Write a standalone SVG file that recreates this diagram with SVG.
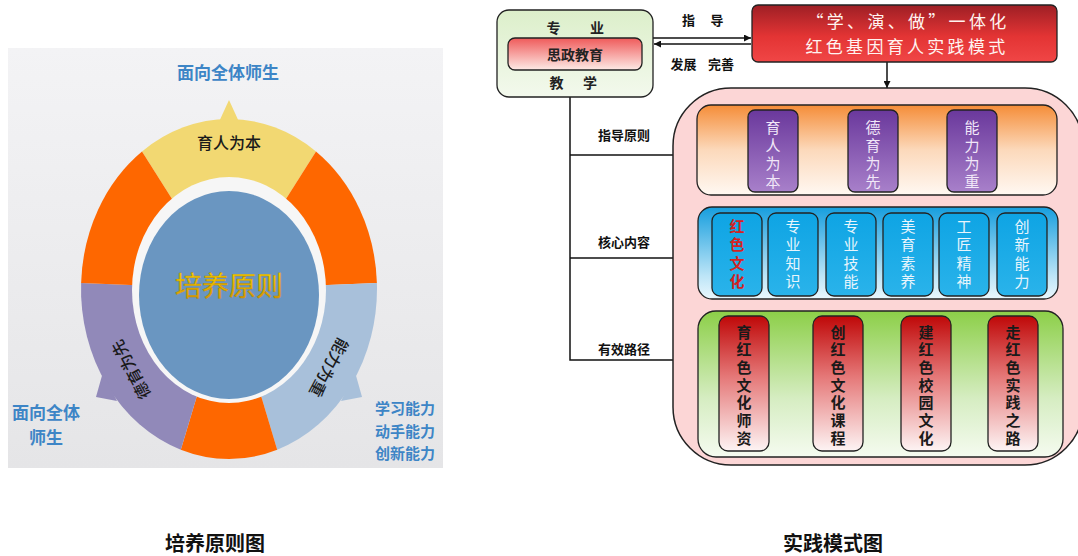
<svg xmlns="http://www.w3.org/2000/svg" width="1078" height="556" viewBox="0 0 1078 556">
<defs>
<style>
text{font-family:"Noto Sans CJK SC","Noto Sans",sans-serif}
.bl{fill:#3d85c6;font-weight:700}
.lbl{font-size:13px;font-weight:700;fill:#111}
.ttl{font-size:14px;font-weight:700;fill:#222}
.box{stroke:#222;stroke-width:1.3}
.v{writing-mode:vertical-rl;font-size:15px}
.pch{fill:#f1e7f8;letter-spacing:3px}
.bch{fill:#e8f5fc;letter-spacing:3.1px}
.rch{font-weight:700;fill:#1a1a1a;letter-spacing:2.7px}
.cap{font-size:20px;font-weight:700;fill:#111;text-anchor:middle}
.ln{stroke:#111;stroke-width:1.5;fill:none}
.hd{font-size:17px;letter-spacing:3.3px;text-anchor:middle;fill:#fff3f0}
</style>
<linearGradient id="bg" x1="0" y1="0" x2="0" y2="1"><stop offset="0" stop-color="#f3f3f5"/><stop offset="1" stop-color="#e5e5e7"/></linearGradient>
<linearGradient id="gold" x1="0" y1="0" x2="0" y2="1"><stop offset="0" stop-color="#ffe600"/><stop offset="1" stop-color="#d08c00"/></linearGradient>
<linearGradient id="gGreen" x1="0" y1="0" x2="0" y2="1"><stop offset="0" stop-color="#dcefca"/><stop offset="1" stop-color="#f3f9ed"/></linearGradient>
<linearGradient id="gSz" x1="0" y1="0" x2="0" y2="1"><stop offset="0" stop-color="#ef5a5a"/><stop offset="1" stop-color="#fdeae6"/></linearGradient>
<linearGradient id="gRed" x1="0" y1="0" x2="0" y2="1"><stop offset="0" stop-color="#9e1f25"/><stop offset="0.55" stop-color="#e33434"/><stop offset="1" stop-color="#f04646"/></linearGradient>
<linearGradient id="gOr" x1="0" y1="0" x2="0" y2="1"><stop offset="0" stop-color="#f58d38"/><stop offset="0.5" stop-color="#fcd9bb"/><stop offset="1" stop-color="#fff8f2"/></linearGradient>
<linearGradient id="gPu" x1="0" y1="0" x2="0" y2="1"><stop offset="0" stop-color="#6a389c"/><stop offset="1" stop-color="#a880ca"/></linearGradient>
<linearGradient id="gBl" x1="0" y1="0" x2="0" y2="1"><stop offset="0" stop-color="#169ede"/><stop offset="0.75" stop-color="#bde5f7"/><stop offset="1" stop-color="#eaf7fd"/></linearGradient>
<linearGradient id="gBb" x1="0" y1="0" x2="0" y2="1"><stop offset="0" stop-color="#0ea4e4"/><stop offset="1" stop-color="#2ab3ea"/></linearGradient>
<linearGradient id="gGr" x1="0" y1="0" x2="0" y2="1"><stop offset="0" stop-color="#8ccf48"/><stop offset="0.6" stop-color="#d6edc2"/><stop offset="1" stop-color="#f5fbf0"/></linearGradient>
<linearGradient id="gRb" x1="0" y1="0" x2="0" y2="1"><stop offset="0" stop-color="#bf0808"/><stop offset="0.45" stop-color="#e57878"/><stop offset="1" stop-color="#fdf4f4"/></linearGradient>
<marker id="ah" viewBox="0 0 10 10" refX="10" refY="5" markerWidth="8" markerHeight="7" markerUnits="userSpaceOnUse" orient="auto"><path d="M0,0 L10,5 L0,10 z" fill="#111"/></marker>
</defs>

<!-- Left: 培养原则图 -->
<g id="principle-wheel">
<rect x="8" y="48" width="435" height="420" fill="url(#bg)"/>
<path d="M229,289 L142,151.5 A148,170 0 0 1 316,151.5 Z" fill="#f2d872"/>
<polygon points="218,124 229,100 240,124" fill="#f2d872"/>
<path d="M229,289 L316,151.5 A148,170 0 0 1 376.9,283.1 Z" fill="#fe6700"/>
<path d="M229,289 L376.9,283.1 A148,170 0 0 1 277.2,449.7 Z" fill="#a8c0da"/>
<polygon points="355,372 362,397 341,401" fill="#a8c0da"/>
<path d="M229,289 L277.2,449.7 A148,170 0 0 1 180.8,449.7 Z" fill="#fe6700"/>
<path d="M229,289 L180.8,449.7 A148,170 0 0 1 81.1,283.1 Z" fill="#9189b9"/>
<polygon points="103,372 96,397 117,401" fill="#9189b9"/>
<path d="M229,289 L81.1,283.1 A148,170 0 0 1 142,151.5 Z" fill="#fe6700"/>
<ellipse cx="229" cy="290" rx="97" ry="113" fill="#f6f6f6"/>
<ellipse cx="229" cy="295" rx="90" ry="104" fill="#6a96c1"/>
<text x="229" y="296" font-size="27" text-anchor="middle" fill="url(#gold)" stroke="#b98300" stroke-width="0.4">培养原则</text>
<text x="229" y="149" font-size="16" text-anchor="middle" fill="#1a1a1a" font-weight="500">育人为本</text>
<text x="130" y="370" font-size="16" text-anchor="middle" dominant-baseline="central" fill="#1a1a1a" font-weight="500" transform="rotate(-118 130 370)">德育为先</text>
<text x="330" y="368" font-size="16" text-anchor="middle" dominant-baseline="central" fill="#1a1a1a" font-weight="500" transform="rotate(118 330 368)">能力为重</text>
<text class="bl" x="228" y="78.5" font-size="17" text-anchor="middle">面向全体师生</text>
<text class="bl" font-size="17" text-anchor="middle"><tspan x="46" y="419">面向全体</tspan><tspan x="46" y="444">师生</tspan></text>
<text class="bl" font-size="15" text-anchor="middle"><tspan x="405" y="414">学习能力</tspan><tspan x="405" y="436.5">动手能力</tspan><tspan x="405" y="459">创新能力</tspan></text>
</g>
<text id="caption-left" class="cap" x="215" y="550.5">培养原则图</text>

<!-- Right: 实践模式图 -->
<g id="connectors">
<line class="ln" x1="653" y1="38" x2="751" y2="38" marker-end="url(#ah)"/>
<line class="ln" x1="751" y1="44" x2="654" y2="44" marker-end="url(#ah)"/>
<line class="ln" x1="887" y1="62" x2="887" y2="88" marker-end="url(#ah)"/>
<path class="ln" d="M570,97 V360 H697" marker-end="url(#ah)"/>
<line class="ln" x1="570" y1="155" x2="697" y2="155" marker-end="url(#ah)"/>
<line class="ln" x1="570" y1="258" x2="697" y2="258" marker-end="url(#ah)"/>
<text class="lbl" y="25"><tspan x="690" text-anchor="middle">指</tspan> <tspan x="717" text-anchor="middle">导</tspan></text>
<text class="lbl" y="69"><tspan x="685" text-anchor="middle">发展</tspan> <tspan x="721" text-anchor="middle">完善</tspan></text>
<text class="lbl" x="624" y="140" text-anchor="middle">指导原则</text>
<text class="lbl" x="624" y="247" text-anchor="middle">核心内容</text>
<text class="lbl" x="624" y="354" text-anchor="middle">有效路径</text>
</g>

<g id="node-source">
<rect class="box" x="497" y="10" width="156" height="87" rx="12" fill="url(#gGreen)"/>
<text class="ttl" y="33"><tspan x="555" text-anchor="middle">专</tspan> <tspan x="597" text-anchor="middle">业</tspan></text>
<rect class="box" x="508" y="38" width="134" height="32" rx="7" fill="url(#gSz)"/>
<text class="ttl" x="575" y="59.5" text-anchor="middle">思政教育</text>
<text class="ttl" y="87.5"><tspan x="558" text-anchor="middle">教</tspan> <tspan x="590" text-anchor="middle">学</tspan></text>
</g>

<g id="node-model">
<rect class="box" x="752" y="5" width="305" height="57" rx="6" fill="url(#gRed)"/>
<text class="hd" x="908" y="27.8">“学、演、做”一体化</text>
<text class="hd" x="907" y="52.6">红色基因育人实践模式</text>
</g>

<g id="node-system">
<rect x="673" y="88" width="410" height="377" rx="58" fill="#fcd6d6" stroke="#222" stroke-width="1.5"/>
</g>

<g id="node-principles">
<rect class="box" x="697" y="105" width="360" height="90" rx="14" fill="url(#gOr)"/>
<rect class="box" x="748" y="110" width="50" height="82" rx="7" fill="url(#gPu)"/>
<rect class="box" x="848" y="110" width="50" height="82" rx="7" fill="url(#gPu)"/>
<rect class="box" x="947" y="110" width="50" height="82" rx="7" fill="url(#gPu)"/>
<text class="v pch" x="773" y="119.5">育人为本</text>
<text class="v pch" x="873" y="119.5">德育为先</text>
<text class="v pch" x="972" y="119.5">能力为重</text>
</g>

<g id="node-content">
<rect class="box" x="698" y="207" width="360" height="92" rx="14" fill="url(#gBl)"/>
<rect class="box" x="712" y="213" width="50" height="83" rx="8" fill="url(#gBb)"/>
<rect class="box" x="768" y="213" width="50" height="83" rx="8" fill="url(#gBb)"/>
<rect class="box" x="826" y="213" width="50" height="83" rx="8" fill="url(#gBb)"/>
<rect class="box" x="883" y="213" width="50" height="83" rx="8" fill="url(#gBb)"/>
<rect class="box" x="939" y="213" width="50" height="83" rx="8" fill="url(#gBb)"/>
<rect class="box" x="997" y="213" width="50" height="83" rx="8" fill="url(#gBb)"/>
<text class="v bch" x="737" y="219.2" style="fill:#d42222;font-weight:700">红色文化</text>
<text class="v bch" x="793" y="219.2">专业知识</text>
<text class="v bch" x="851" y="219.2">专业技能</text>
<text class="v bch" x="908" y="219.2">美育素养</text>
<text class="v bch" x="964" y="219.2">工匠精神</text>
<text class="v bch" x="1022" y="219.2">创新能力</text>
</g>

<g id="node-paths">
<rect class="box" x="698" y="311" width="365" height="146" rx="18" fill="url(#gGr)"/>
<rect class="box" x="719" y="316" width="50" height="135" rx="9" fill="url(#gRb)"/>
<rect class="box" x="813" y="316" width="50" height="135" rx="9" fill="url(#gRb)"/>
<rect class="box" x="901" y="316" width="50" height="135" rx="9" fill="url(#gRb)"/>
<rect class="box" x="988" y="316" width="50" height="135" rx="9" fill="url(#gRb)"/>
<text class="v rch" x="744" y="324.5">育红色文化师资</text>
<text class="v rch" x="838" y="324.5">创红色文化课程</text>
<text class="v rch" x="926" y="324.5">建红色校园文化</text>
<text class="v rch" x="1013" y="324.5">走红色实践之路</text>
</g>
<text id="caption-right" class="cap" x="833" y="550.5">实践模式图</text>
</svg>
